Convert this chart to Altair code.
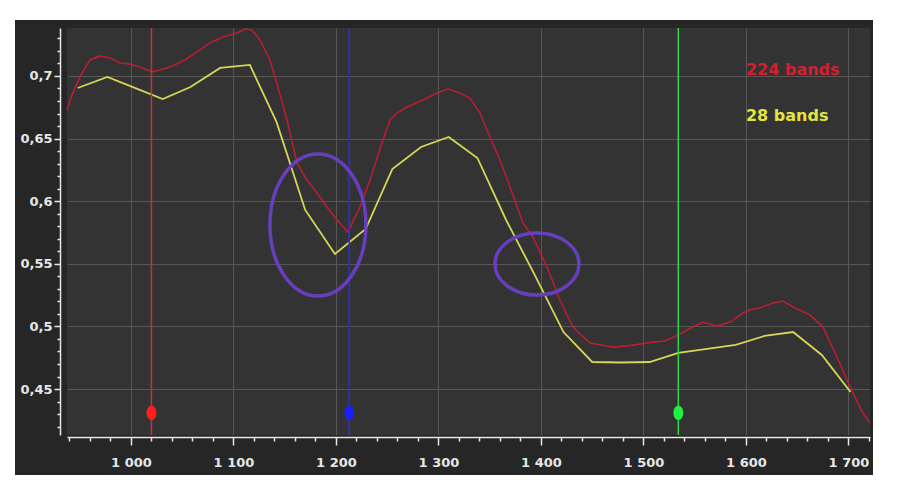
import altair as alt
import pandas as pd

# ---- data ----
red_wl = [937.6, 942.4, 950.2, 960.0, 969.8, 979.5, 989.3, 999.0, 1008.8, 1020.5, 1028.3, 1038.0,
          1052.7, 1064.4, 1077.1, 1089.8, 1103.4, 1111.2, 1118.0, 1125.9, 1135.6, 1143.4, 1152.2,
          1162.0, 1171.7, 1181.5, 1191.2, 1201.0, 1211.7, 1223.4, 1233.2, 1245.9, 1252.7, 1259.5,
          1269.3, 1284.9, 1298.5, 1309.3, 1321.0, 1330.7, 1340.5, 1350.2, 1360.0, 1369.8, 1382.4,
          1392.2, 1405.9, 1418.5, 1431.2, 1447.8, 1470.2, 1489.8, 1509.3, 1521.0, 1533.7, 1548.3,
          1558.0, 1571.7, 1584.4, 1597.1, 1603.9, 1613.7, 1626.3, 1636.1, 1645.9, 1662.4, 1675.1,
          1688.8, 1701.5, 1714.1, 1721.0]
red_val = [0.6728, 0.6848, 0.6992, 0.7128, 0.7160, 0.7144, 0.7104, 0.7096, 0.7072, 0.7032, 0.7048, 0.7072,
           0.7128, 0.7192, 0.7264, 0.7312, 0.7343, 0.7375, 0.7367, 0.7288, 0.7128, 0.6912, 0.6649,
           0.6305, 0.6169, 0.6065, 0.5954, 0.5850, 0.5754, 0.5954, 0.6169, 0.6489, 0.6649, 0.6704,
           0.6752, 0.6808, 0.6864, 0.6896, 0.6864, 0.6824, 0.6704, 0.6513, 0.6329, 0.6113, 0.5826,
           0.5714, 0.5474, 0.5211, 0.4995, 0.4867, 0.4835, 0.4851, 0.4875, 0.4884, 0.4931, 0.4995,
           0.5035, 0.5003, 0.5035, 0.5107, 0.5131, 0.5147, 0.5187, 0.5203, 0.5155, 0.5091, 0.4995,
           0.4756, 0.4516, 0.4308, 0.4228]

yel_wl = [948, 977, 1005, 1031, 1058, 1087, 1116, 1142, 1170, 1199, 1229, 1255, 1283, 1310,
          1338, 1366, 1394, 1422, 1450, 1478, 1506, 1534, 1562, 1590, 1618, 1646, 1674, 1702]
yel_val = [0.6904, 0.6992, 0.6901, 0.6816, 0.6912, 0.7064, 0.7088, 0.6633, 0.5930, 0.5578,
           0.5778, 0.6257, 0.6433, 0.6513, 0.6345, 0.5850, 0.5410, 0.4955, 0.4716, 0.4712,
           0.4716, 0.4788, 0.4820, 0.4853, 0.4924, 0.4955, 0.4772, 0.4476]

marker_wl = [1020, 1213, 1534]
marker_col = ["#cc3040", "#2a2aff", "#2bd84a"]
dot_col = ["#ff1e1e", "#1e1eff", "#22f040"]
dot_val = 0.431

label_text = ["224 bands", "28 bands"]
label_col = ["#d4202e", "#e4e440"]
label_wl = [1600, 1600]
label_val = [0.7048, 0.668]

ell_wl = [1182.4, 1396.1]
ell_val = [0.581, 0.5498]

x_ticks = list(range(940, 1721, 20))
y_ticks = [round(0.42 + 0.01 * i, 2) for i in range(32)]

X_DOM = [937.6, 1721]
Y_DOM = [0.4133, 0.7383]
W, H = 803, 407

red_df = pd.DataFrame({"wl": red_wl, "v": red_val})
yel_df = pd.DataFrame({"wl": yel_wl, "v": yel_val})
mk_df = pd.DataFrame({"wl": marker_wl, "c": marker_col, "d": dot_col, "v": [dot_val] * 3})
lab_df = pd.DataFrame({"wl": label_wl, "v": label_val, "t": label_text, "c": label_col})
ell_df = pd.DataFrame({"wl": ell_wl, "v": ell_val})

xs = alt.Scale(domain=X_DOM, nice=False, zero=False)
ys = alt.Scale(domain=Y_DOM, nice=False, zero=False)

x_test = "datum.value % 100 === 0"
x_axis = alt.Axis(
    values=x_ticks, title=None, orient="bottom", offset=2,
    labelExpr=f"{x_test} ? replace(format(datum.value, ','), ',', ' ') : ''",
    labelOverlap=False, labelFlush=False,
    tickSize={"condition": {"test": x_test, "value": 8}, "value": 4},
    gridOpacity={"condition": {"test": x_test, "value": 1}, "value": 0},
    labelPadding=11,
)
y_test = "abs(datum.value*20 - round(datum.value*20)) < 0.001"
y_axis = alt.Axis(
    values=y_ticks, title=None, orient="left", offset=7,
    labelExpr=f"{y_test} ? replace(format(datum.value, '.2~f'), '.', ',') : ''",
    labelOverlap=False, labelFlush=False,
    tickSize={"condition": {"test": y_test, "value": 6}, "value": 3},
    gridOpacity={"condition": {"test": y_test, "value": 1}, "value": 0},
    labelPadding=2,
)

X = alt.X("wl:Q", scale=xs, axis=x_axis)
Y = alt.Y("v:Q", scale=ys, axis=y_axis)

one = pd.DataFrame({"k": [0]})


def strip(x1, x2, y1, y2):
    # white page margin around the dark frame (decoration only)
    return alt.Chart(one).mark_rect(color="white", clip=False).encode(
        x=alt.value(x1), x2=alt.value(x2), y=alt.value(y1), y2=alt.value(y2))


whites = [strip(-59, 900, -20, -8), strip(-59, -52, -20, 500),
          strip(806, 900, -20, 500), strip(-59, 900, 452, 500)]

red_line = alt.Chart(red_df).mark_line(color="#b81f32", strokeWidth=1.6).encode(x=X, y=Y)
yel_line = alt.Chart(yel_df).mark_line(color="#d6d65a", strokeWidth=1.8).encode(x=X, y=Y)

rules = alt.Chart(mk_df).mark_rule(strokeWidth=1.5).encode(
    x=X, color=alt.Color("c:N", scale=None))
dots = alt.Chart(mk_df).mark_point(
    filled=True, opacity=1, size=170,
    shape="M0,-1.1 C0.55,-1.1 0.75,-0.5 0.75,0 C0.75,0.5 0.55,1.1 0,1.1 C-0.55,1.1 -0.75,0.5 -0.75,0 C-0.75,-0.5 -0.55,-1.1 0,-1.1 Z"
).encode(x=X, y=Y, color=alt.Color("d:N", scale=None))


def ellipse_path(a, b, k=0.5523):
    return (f"M{a},0 C{a},{b*k} {a*k},{b} 0,{b} C{-a*k},{b} {-a},{b*k} {-a},0 "
            f"C{-a},{-b*k} {-a*k},{-b} 0,{-b} C{a*k},{-b} {a},{-b*k} {a},0 Z")


e1 = alt.Chart(ell_df.iloc[[0]]).mark_point(
    shape=ellipse_path(0.676, 1.0), size=142 * 142, filled=False, stroke="#6a3fc4",
    strokeWidth=3.5, opacity=0.95).encode(x=X, y=Y)
e2 = alt.Chart(ell_df.iloc[[1]]).mark_point(
    shape=ellipse_path(1.0, 0.738), size=84 * 84, filled=False, stroke="#6a3fc4",
    strokeWidth=3.5, opacity=0.95).encode(x=X, y=Y)

labels = alt.Chart(lab_df).mark_text(align="left", baseline="middle", font="DejaVu Sans",
                                     fontSize=16, fontWeight="bold").encode(
    x=X, y=Y, text="t:N", color=alt.Color("c:N", scale=None))

chart = alt.layer(*whites, red_line, yel_line, rules, dots, e1, e2, labels).properties(
    width=W, height=H,
    autosize=alt.AutoSizeParams(type="none"),
    padding={"left": 59, "top": 20, "right": 20, "bottom": 40},
    background="#262626",
).configure_view(fill="#333333", stroke=None).configure_axis(
    domainColor="#e8e8e8", domainWidth=1.5, tickColor="#e8e8e8", tickWidth=1.5,
    labelColor="#e6e6e6", labelFont="DejaVu Sans", labelFontSize=13, labelFontWeight="bold",
    gridColor="#575757", gridWidth=1,
)

chart.save("out.html", embed_options={"renderer": "svg", "actions": False})
